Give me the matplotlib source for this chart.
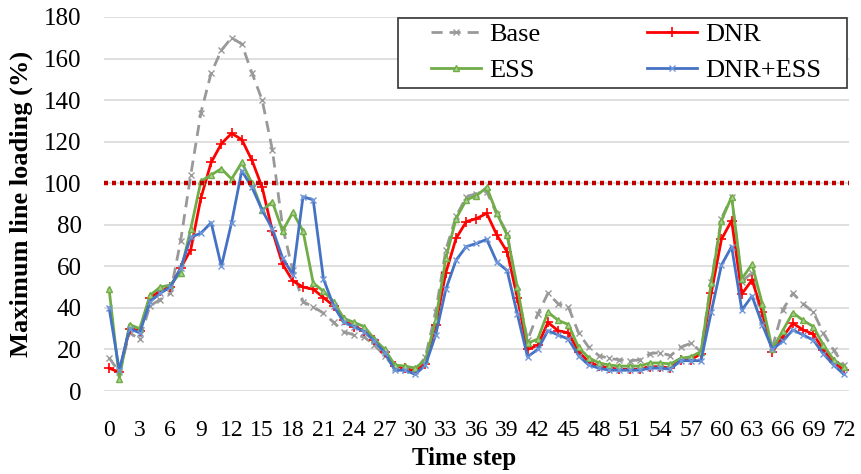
import matplotlib
matplotlib.use("Agg")
import matplotlib.pyplot as plt
from matplotlib.patches import Rectangle

time_steps = list(range(73))
xtick_labels = [str(t) for t in range(0, 73, 3)]

base = [16, 9, 28, 25, 41, 44, 47, 72, 104, 134,
        153, 164, 170, 167, 153, 140, 116, 79, 58, 43,
        40.5, 37.5, 33, 28.5, 27, 26, 22, 17, 11, 10,
        9.5, 16.5, 38, 68, 84, 93.5, 95, 96, 85, 76,
        48, 24.5, 37, 47, 42, 40.5, 28, 21, 17, 15.7,
        15, 14.5, 15, 18, 18.5, 17, 21, 23, 19, 52.6,
        83, 93.5, 52.6, 57, 33, 21, 39, 47, 42, 38,
        27.8, 19.7, 12.5]
dnr = [11, 9, 30, 29, 45, 48, 50, 59, 68, 93,
       110, 119, 124, 121, 111, 98, 77, 61, 53, 50,
       49, 45, 41, 34, 31, 29, 24.5, 19, 12, 11,
       9.5, 13, 32, 57, 73.5, 81.5, 83, 85.5, 75, 67,
       45, 20, 22, 33, 29, 28, 19, 14, 12, 11,
       10.5, 10.5, 10.5, 11.7, 11.7, 11, 15, 15, 18, 47,
       73, 82, 46.7, 53.4, 38, 19, 26, 32.6, 29.4, 27.4,
       19.7, 14, 10]
ess = [49, 6, 32, 30, 46, 50, 51, 57, 78, 101,
       104, 107, 102, 110, 100, 87, 91, 77, 86, 77,
       52, 48, 43, 35, 33, 31, 25, 20, 12.5, 12,
       11, 15, 34, 64, 83, 92, 94, 98, 85.5, 75,
       50, 23, 25, 38, 34, 32, 21, 16, 13.5, 12.5,
       12, 12, 12, 13.5, 13.5, 13, 15.7, 16.5, 19, 52,
       82, 93.5, 54, 61, 42, 20, 29, 37.7, 34, 31,
       22, 15, 11.7]
dnr_ess = [40, 10, 30, 28, 43, 47, 50, 59, 74, 76,
           81, 60, 81, 106, 98, 87, 78, 64, 56, 93.5,
           92, 54, 41, 33, 31, 28.5, 24, 18.5, 10, 10,
           8, 12.5, 27, 49, 63, 69.5, 71, 73, 62, 58,
           37, 16.5, 20, 29, 27, 25, 17, 12.5, 11, 10,
           10, 10, 10, 11, 11, 10.5, 14.6, 14.6, 14.6, 38,
           60.6, 69.5, 39, 45.7, 32, 20, 24, 29.4, 27, 24.5,
           17.8, 12.5, 8]
limit = 100

plt.rcParams['font.family'] = ['Liberation Serif', 'DejaVu Serif']

W, H = 862, 474
fig = plt.figure(figsize=(W / 100, H / 100), dpi=100)
ax = fig.add_axes([104 / W, 1 - 391 / H, 745 / W, 374 / H])

ax.plot(time_steps, base, color='#999999', lw=2, ls=(0, (4, 2.5)),
        marker='x', ms=5, mew=1, label='Base', zorder=3)
ax.plot(time_steps, dnr, color='#ff0000', lw=2, marker='+', ms=7, mew=1.2,
        label='DNR', zorder=4)
ax.plot(time_steps, ess, color='#70ad47', lw=2, marker='^', ms=4.5,
        mfc='#a9d18e', mew=1, label='ESS', zorder=5)
ax.plot(time_steps, dnr_ess, color='#4472c4', lw=2, marker='x', ms=5,
        mec='#6f96d9', mew=1, label='DNR+ESS', zorder=6)
ax.axhline(limit, color='#c00000', lw=3.2, ls=(0, (0.9, 0.9)), zorder=7)

ax.set_xlim(-0.5, 72.5)
ax.set_ylim(0, 180)
ax.set_yticks(range(0, 181, 20))
ax.set_xticks(range(0, 73, 3))
ax.set_xticklabels(xtick_labels)
ax.grid(axis='y', color='#d9d9d9', lw=1.2)
ax.set_axisbelow(True)
for s in ax.spines.values():
    s.set_visible(False)
ax.tick_params(length=0, labelsize=18)
ax.tick_params(axis='x', pad=21, labelsize=17)
ax.tick_params(axis='y', pad=16)

ax.set_ylabel('Maximum line loading (%)', fontsize=19, fontweight='bold')
ax.set_xlabel('Time step', fontsize=18, fontweight='bold')
ax.yaxis.set_label_coords(-0.0953, 0.5)
ax.xaxis.set_label_coords(0.483, -0.150)

# legend box drawn by hand so the entries can sit inside with a wide margin
ax.add_patch(Rectangle((398 / W, 1 - 88 / H), 449 / W, 70 / H,
                       transform=fig.transFigure, facecolor='white',
                       edgecolor='#333333', lw=1.2, zorder=9, clip_on=False))
h, l = ax.get_legend_handles_labels()
order = [0, 2, 1, 3]
leg = fig.legend([h[i] for i in order], [l[i] for i in order], ncol=2,
                 loc='upper left', bbox_to_anchor=(431 / W, 1 - 23 / H),
                 fontsize=19, frameon=False, handlelength=1.9,
                 columnspacing=4.05, borderpad=0.0, borderaxespad=0,
                 labelspacing=0.45, handletextpad=0.3)
leg.set_zorder(10)

fig.savefig('out.png', dpi=100)
